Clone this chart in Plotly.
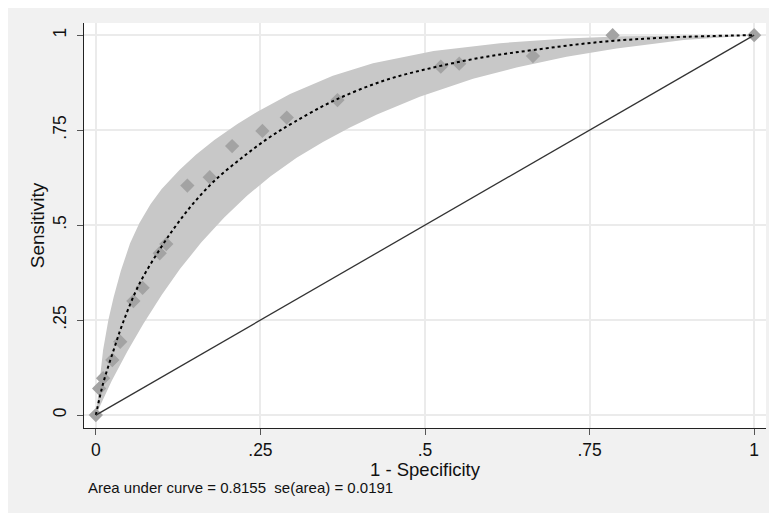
import plotly.graph_objects as go

# Observed (empirical) ROC points
obs_fpr = [0.0, 0.005, 0.011, 0.025, 0.037, 0.057, 0.071, 0.097, 0.107, 0.139, 0.173,
           0.207, 0.253, 0.290, 0.367, 0.524, 0.552, 0.664, 0.785, 1.0]
obs_sens = [0.0, 0.070, 0.097, 0.145, 0.193, 0.300, 0.335, 0.426, 0.450, 0.604, 0.626,
            0.708, 0.748, 0.783, 0.829, 0.917, 0.925, 0.945, 1.0, 1.0]

# Fitted (smooth) ROC curve
fit_fpr = [0.0, 0.011, 0.027, 0.042, 0.066, 0.100, 0.124, 0.149, 0.181, 0.221, 0.262,
           0.302, 0.361, 0.437, 0.513, 0.589, 0.665, 0.766, 0.870, 1.0]
fit_sens = [0.0, 0.083, 0.171, 0.247, 0.345, 0.444, 0.504, 0.559, 0.618, 0.676, 0.729,
            0.772, 0.827, 0.880, 0.915, 0.942, 0.961, 0.982, 0.994, 1.0]

# Confidence band edges
up_fpr = [0.0, 0.005, 0.011, 0.019, 0.027, 0.038, 0.052, 0.066, 0.083, 0.100, 0.127,
          0.152, 0.180, 0.215, 0.246, 0.295, 0.360, 0.421, 0.513, 0.614, 0.715, 0.800, 1.0]
up_sens = [0.0, 0.083, 0.171, 0.250, 0.310, 0.380, 0.452, 0.505, 0.555, 0.595, 0.645,
           0.685, 0.724, 0.766, 0.799, 0.845, 0.893, 0.926, 0.958, 0.979, 0.991, 0.997, 1.0]
lo_fpr = [0.0, 0.006, 0.024, 0.048, 0.072, 0.100, 0.128, 0.160, 0.195, 0.230, 0.265,
          0.305, 0.345, 0.386, 0.427, 0.492, 0.573, 0.639, 0.715, 0.791, 0.893, 1.0]
lo_sens = [0.0, 0.025, 0.090, 0.168, 0.240, 0.316, 0.385, 0.454, 0.520, 0.578, 0.628,
           0.677, 0.719, 0.757, 0.791, 0.838, 0.885, 0.915, 0.943, 0.965, 0.987, 1.0]

ref_line = [0.0, 1.0]

tick_vals = [0, 0.25, 0.5, 0.75, 1]
tick_text = ["0", ".25", ".5", ".75", "1"]

x_title = "1 - Specificity"
y_title = "Sensitivity"
note = "Area under curve = 0.8155  se(area) = 0.0191"

FONT = "Liberation Sans, Arial, sans-serif"

fig = go.Figure()

fig.add_trace(go.Scatter(
    x=up_fpr + lo_fpr[::-1], y=up_sens + lo_sens[::-1],
    fill="toself", fillcolor="#c8c8c8", line=dict(width=0),
    mode="lines", hoverinfo="skip", showlegend=False))

fig.add_trace(go.Scatter(
    x=obs_fpr, y=obs_sens, mode="markers",
    marker=dict(symbol="diamond", size=11, color="#a3a3a3", line=dict(width=0)),
    showlegend=False))

fig.add_trace(go.Scatter(
    x=fit_fpr, y=fit_sens, mode="lines",
    line=dict(color="black", width=2, dash="dot", shape="spline"),
    showlegend=False))

fig.add_trace(go.Scatter(
    x=ref_line, y=ref_line, mode="lines",
    line=dict(color="#333333", width=1.3),
    showlegend=False))

axis_common = dict(
    tickvals=tick_vals, ticktext=tick_text,
    showgrid=True, gridcolor="#ebebeb", gridwidth=1.5,
    zeroline=False, showline=True, linecolor="#222222", linewidth=1,
    ticks="outside", ticklen=6, tickcolor="#555555", tickwidth=1,
    tickfont=dict(family=FONT, size=17.5, color="#111111"),
    mirror=False,
)

fig.update_layout(
    width=769, height=505,
    margin=dict(l=76, r=11, t=15, b=85),
    paper_bgcolor="#f1f1f1", plot_bgcolor="white",
    font=dict(family=FONT, color="#111111"),
    xaxis=dict(range=[-0.018, 1.018], **axis_common),
    yaxis=dict(range=[-0.034, 1.032], tickangle=-90, ticklabelstandoff=4,
               title=dict(text=y_title, font=dict(family=FONT, size=19), standoff=0),
               **axis_common),
    annotations=[
        dict(text=x_title, xref="paper", yref="paper", x=0.501, y=-0.103,
             xanchor="center", yanchor="middle", showarrow=False,
             font=dict(family=FONT, size=18.5, color="#111111")),
        dict(text=note, xref="paper", yref="paper", x=0.003, y=-0.148,
             xanchor="left", yanchor="middle", showarrow=False,
             font=dict(family=FONT, size=15, color="#111111")),
    ],
)

fig.write_html("out.html")
